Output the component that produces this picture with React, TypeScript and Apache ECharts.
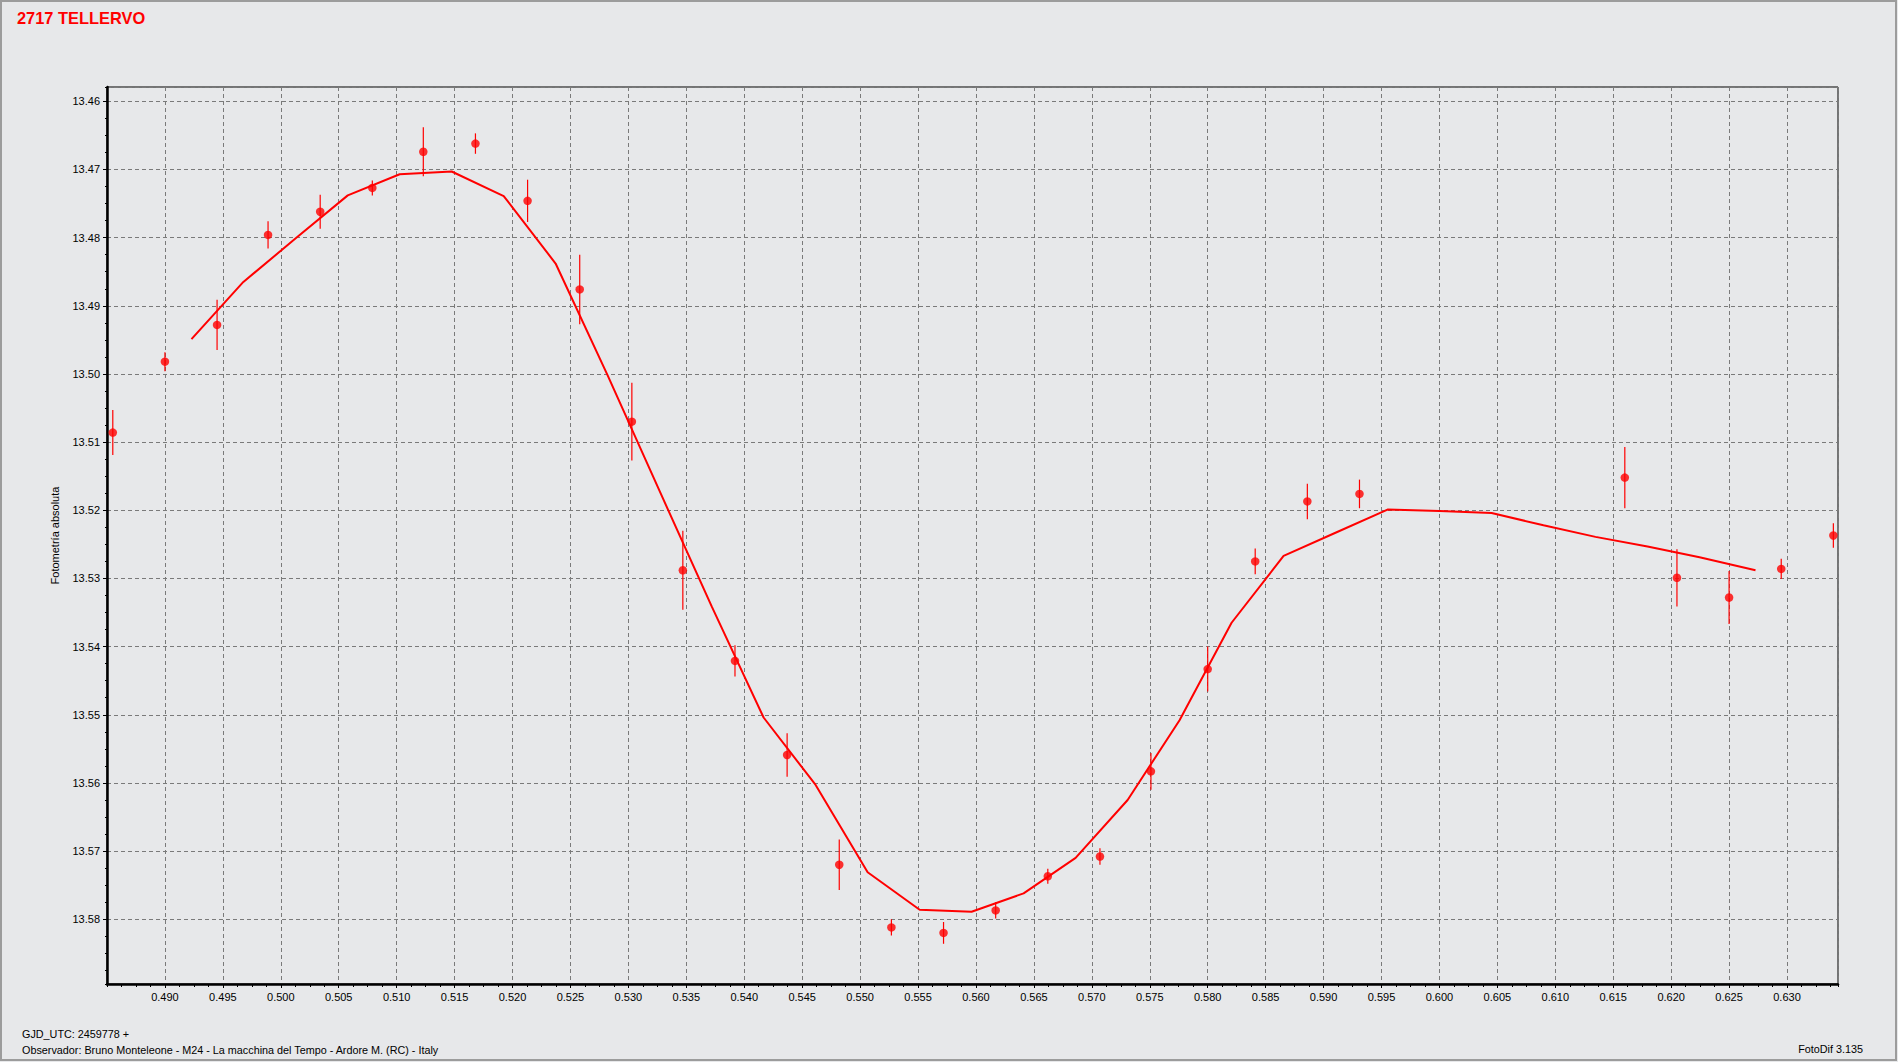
import React, { useEffect, useRef } from "react";
import * as echarts from "echarts";

const TITLE = "2717 TELLERVO";
const Y_NAME = "Fotometría absoluta";
const FOOT_JD = "GJD_UTC: 2459778 +";
const FOOT_OBS = "Observador: Bruno Monteleone - M24 - La macchina del Tempo - Ardore M. (RC) - Italy";
const FOOT_SW = "FotoDif 3.135";

// axis extents and tick steps
const X_MIN = 0.485;
const X_MAX = 0.6344;
const X_STEP = 0.005;
const Y_MIN = 13.4579;
const Y_MAX = 13.5895;
const Y_STEP = 0.01;

// observed points (phase, magnitude, error)
const pointX = [
  0.4855, 0.49, 0.4945, 0.4989, 0.5034, 0.5079, 0.5123, 0.5168, 0.5213, 0.5258,
  0.5303, 0.5347, 0.5392, 0.5437, 0.5482, 0.5527, 0.5572, 0.5617, 0.5662, 0.5707,
  0.5751, 0.58, 0.5841, 0.5886, 0.5931, 0.616, 0.6205, 0.625, 0.6295, 0.634,
];
const pointY = [
  13.5086, 13.4982, 13.4928, 13.4796, 13.4762, 13.4727, 13.4674, 13.4662, 13.4746, 13.4876,
  13.507, 13.5288, 13.5421, 13.5559, 13.572, 13.5812, 13.582, 13.5787, 13.5737, 13.5708,
  13.5583, 13.5433, 13.5275, 13.5187, 13.5176, 13.5152, 13.5299, 13.5328, 13.5286, 13.5237,
];
const pointErr = [
  0.0033, 0.0014, 0.0037, 0.002, 0.0025, 0.0011, 0.0036, 0.0015, 0.0031, 0.0051,
  0.0057, 0.0058, 0.0023, 0.0032, 0.0037, 0.0012, 0.0016, 0.0012, 0.0011, 0.0012,
  0.0027, 0.0033, 0.0019, 0.0026, 0.0021, 0.0045, 0.0042, 0.0039, 0.0015, 0.0018,
];

// fitted curve
const fitX = [
  0.49229, 0.49677, 0.50129, 0.50578, 0.51026, 0.51475, 0.51924, 0.52372, 0.52821, 0.5327,
  0.53719, 0.54167, 0.54616, 0.55065, 0.55514, 0.55962, 0.56411, 0.5686, 0.57309, 0.57757,
  0.58206, 0.58655, 0.59103, 0.59552, 0.60001, 0.6045, 0.60898, 0.61347, 0.61796, 0.62245,
  0.62728,
];
const fitY = [
  13.4949, 13.4865, 13.4801, 13.4738, 13.4707, 13.4703, 13.4739, 13.4838, 13.5002, 13.5172,
  13.5341, 13.5504, 13.5603, 13.5731, 13.5786, 13.5789, 13.5762, 13.571, 13.5625, 13.5508,
  13.5365, 13.5267, 13.5233, 13.5199, 13.5201, 13.5204, 13.5222, 13.5239, 13.5253, 13.5269,
  13.5288,
];

const BG = "#e7e8ea";
const RED = "#ff0000";
const FONT = "'Liberation Sans', Arial, sans-serif";

export default function App() {
  const ref = useRef<HTMLDivElement>(null);

  useEffect(() => {
    document.body.style.margin = "0";
    const chart = echarts.init(ref.current as HTMLDivElement, null, { renderer: "svg" });
    const pts = pointX.map((x, i) => [x, pointY[i]]);
    const errs = pointX.map((x, i) => [x, pointY[i] - pointErr[i], pointY[i] + pointErr[i]]);
    const fit = fitX.map((x, i) => [x, fitY[i]]);

    chart.setOption({
      animation: false,
      backgroundColor: BG,
      textStyle: { fontFamily: FONT },
      title: {
        text: TITLE,
        left: 17,
        top: 10,
        padding: 0,
        textStyle: { color: RED, fontSize: 16.4, fontWeight: "bold", fontFamily: FONT },
      },
      grid: {
        left: 107,
        top: 87,
        right: 60,
        bottom: 78,
        show: true,
        borderColor: "#000",
        borderWidth: 1,
        backgroundColor: "transparent",
      },
      xAxis: [
        {
          type: "value",
          min: X_MIN,
          max: X_MAX,
          minInterval: X_STEP,
          maxInterval: X_STEP,
          splitNumber: 30,
          position: "bottom",
          axisLine: { show: true, onZero: false, lineStyle: { color: "#000", width: 2.5 } },
          axisTick: { show: true, length: 4, lineStyle: { color: "#000", width: 1 } },
          axisLabel: {
            show: true,
            showMinLabel: false,
            showMaxLabel: false,
            hideOverlap: false,
            margin: 7,
            color: "#000",
            fontSize: 11,
            fontFamily: FONT,
            formatter: (v: number) => v.toFixed(3),
          },
          splitLine: { show: true, lineStyle: { color: "#7a7a7a", type: [4, 3], width: 1 } },
        },
        {
          type: "value",
          min: X_MIN,
          max: X_MAX,
          minInterval: X_STEP / 4,
          maxInterval: X_STEP / 4,
          splitNumber: 120,
          position: "bottom",
          offset: 0,
          axisLine: { show: false },
          axisTick: { show: true, length: 3, lineStyle: { color: "#000", width: 1 } },
          axisLabel: { show: false },
          splitLine: { show: false },
        },
      ],
      yAxis: [
        {
          type: "value",
          inverse: true,
          min: Y_MIN,
          max: Y_MAX,
          minInterval: Y_STEP,
          maxInterval: Y_STEP,
          splitNumber: 13,
          position: "left",
          name: Y_NAME,
          nameLocation: "middle",
          nameGap: 47,
          nameTextStyle: { color: "#000", fontSize: 11, fontFamily: FONT },
          axisLine: { show: true, onZero: false, lineStyle: { color: "#000", width: 2.5 } },
          axisTick: { show: true, length: 4, lineStyle: { color: "#000", width: 1 } },
          axisLabel: {
            show: true,
            showMinLabel: false,
            showMaxLabel: false,
            hideOverlap: false,
            margin: 7,
            color: "#000",
            fontSize: 11,
            fontFamily: FONT,
            formatter: (v: number) => v.toFixed(2),
          },
          splitLine: { show: true, lineStyle: { color: "#7a7a7a", type: [4, 3], width: 1 } },
        },
        {
          type: "value",
          inverse: true,
          min: Y_MIN,
          max: Y_MAX,
          minInterval: Y_STEP / 4,
          maxInterval: Y_STEP / 4,
          splitNumber: 52,
          position: "left",
          offset: 0,
          axisLine: { show: false },
          axisTick: { show: true, length: 2, lineStyle: { color: "#000", width: 1 } },
          axisLabel: { show: false },
          splitLine: { show: false },
        },
      ],
      series: [
        {
          type: "line",
          data: fit,
          xAxisIndex: 0,
          yAxisIndex: 0,
          showSymbol: false,
          symbol: "none",
          lineStyle: { color: RED, width: 2 },
          silent: true,
          z: 3,
        },
        {
          type: "custom",
          data: errs,
          xAxisIndex: 0,
          yAxisIndex: 0,
          clip: false,
          encode: { x: 0, y: [1, 2] },
          renderItem: (params: any, api: any) => {
            const x = api.value(0);
            const p1 = api.coord([x, api.value(1)]);
            const p2 = api.coord([x, api.value(2)]);
            return {
              type: "line",
              shape: { x1: p1[0], y1: p1[1], x2: p2[0], y2: p2[1] },
              style: { stroke: RED, lineWidth: 1.2 },
            };
          },
          z: 4,
        },
        {
          type: "scatter",
          data: pts,
          xAxisIndex: 0,
          yAxisIndex: 0,
          clip: false,
          symbol: "circle",
          symbolSize: 8.5,
          itemStyle: { color: RED },
          z: 5,
        },
      ],
      graphic: [
        {
          type: "rect",
          shape: { x: 1, y: 1, width: 1895, height: 1059 },
          style: { fill: "none", stroke: "#9c9c9c", lineWidth: 2 },
          silent: true,
        },
        {
          type: "text",
          x: 22,
          y: 1034,
          style: { text: FOOT_JD, fill: "#000", font: `10.8px ${FONT}`, textVerticalAlign: "middle" },
        },
        {
          type: "text",
          x: 22,
          y: 1050,
          style: { text: FOOT_OBS, fill: "#000", font: `10.8px ${FONT}`, textVerticalAlign: "middle" },
        },
        {
          type: "text",
          x: 1863,
          y: 1049,
          style: {
            text: FOOT_SW,
            fill: "#000",
            font: `10.8px ${FONT}`,
            textAlign: "right",
            textVerticalAlign: "middle",
          },
        },
      ],
    });

    return () => {
      chart.dispose();
    };
  }, []);

  return (
    <div
      ref={ref}
      style={{ position: "fixed", left: 0, top: 0, width: 1898, height: 1062 }}
    />
  );
}
